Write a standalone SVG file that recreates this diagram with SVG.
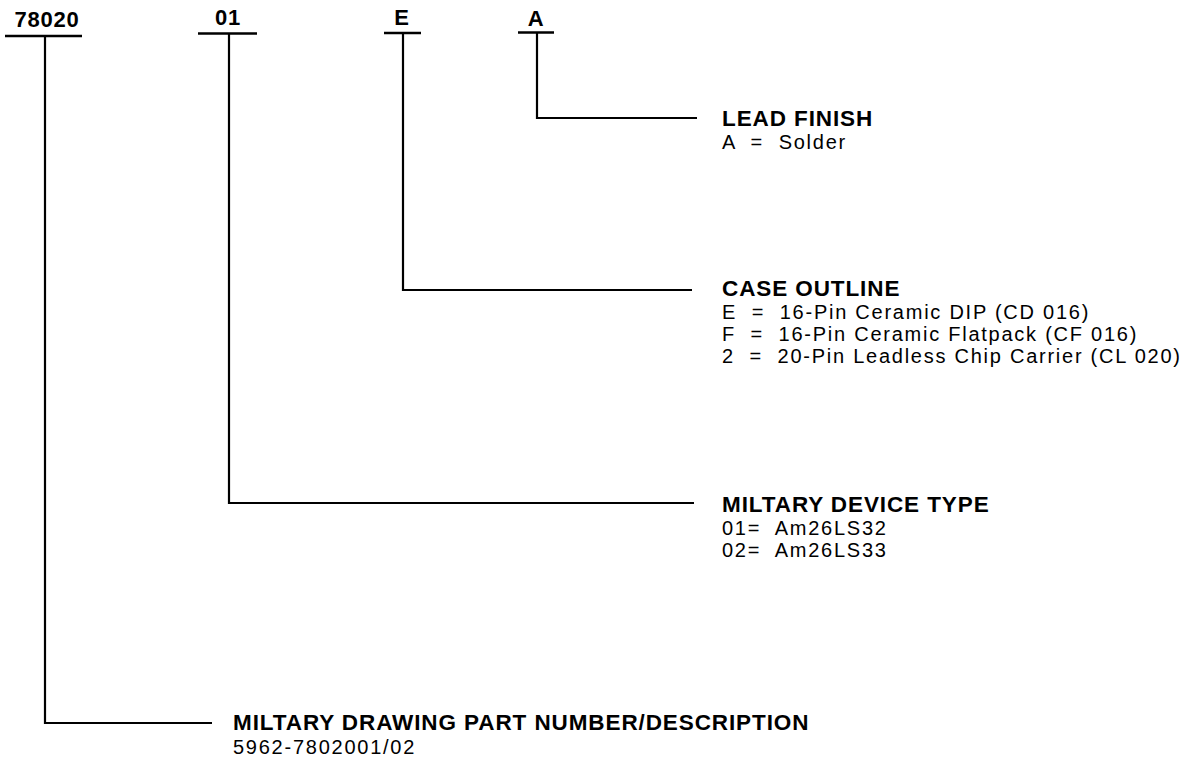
<svg xmlns="http://www.w3.org/2000/svg" width="1196" height="761" viewBox="0 0 1196 761">
<style>
text{font-family:"Liberation Sans",Arial,Helvetica,sans-serif;fill:#000;white-space:pre}
.lbl{font-size:22px;font-weight:bold;text-anchor:middle;letter-spacing:0.8px}
.hd{font-size:22.5px;font-weight:bold;letter-spacing:0.9px}
.tx{font-size:20px;letter-spacing:1.75px}
.ln{stroke:#000;stroke-width:2.2;fill:none}
.ul{stroke:#000;stroke-width:2.6;fill:none}
</style>
<rect width="1196" height="761" fill="#fff"/>
<g id="field-78020">
<text class="lbl" x="47" y="27">78020</text>
<line class="ul" x1="5" y1="36" x2="82" y2="36"/>
</g>
<g id="field-01">
<text class="lbl" x="228" y="25">01</text>
<line class="ul" x1="198" y1="33.5" x2="257" y2="33.5"/>
</g>
<g id="field-E">
<text class="lbl" x="402" y="25">E</text>
<line class="ul" x1="384" y1="33" x2="421" y2="33"/>
</g>
<g id="field-A">
<text class="lbl" x="536" y="26">A</text>
<line class="ul" x1="518" y1="32.5" x2="554" y2="32.5"/>
</g>
<g id="connectors">
<polyline class="ln" points="45,36 45,723 212,723"/>
<polyline class="ln" points="229,33 229,503 694,503"/>
<polyline class="ln" points="403,33 403,290 692,290"/>
<polyline class="ln" points="537,32 537,118 697,118"/>
</g>
<g id="lead-finish">
<text class="hd" x="722" y="126">LEAD FINISH</text>
<text class="tx" x="722" y="149">A  =  Solder</text>
</g>
<g id="case-outline">
<text class="hd" x="722" y="296">CASE OUTLINE</text>
<text class="tx" x="722" y="319">E  =  16-Pin Ceramic DIP (CD 016)</text>
<text class="tx" x="722" y="341">F  =  16-Pin Ceramic Flatpack (CF 016)</text>
<text class="tx" x="722" y="363">2  =  20-Pin Leadless Chip Carrier (CL 020)</text>
</g>
<g id="device-type">
<text class="hd" x="722" y="512">MILTARY DEVICE TYPE</text>
<text class="tx" x="722" y="535">01=  Am26LS32</text>
<text class="tx" x="722" y="557">02=  Am26LS33</text>
</g>
<g id="drawing-number">
<text class="hd" x="233" y="730">MILTARY DRAWING PART NUMBER/DESCRIPTION</text>
<text class="tx" x="233" y="754">5962-7802001/02</text>
</g>
</svg>
